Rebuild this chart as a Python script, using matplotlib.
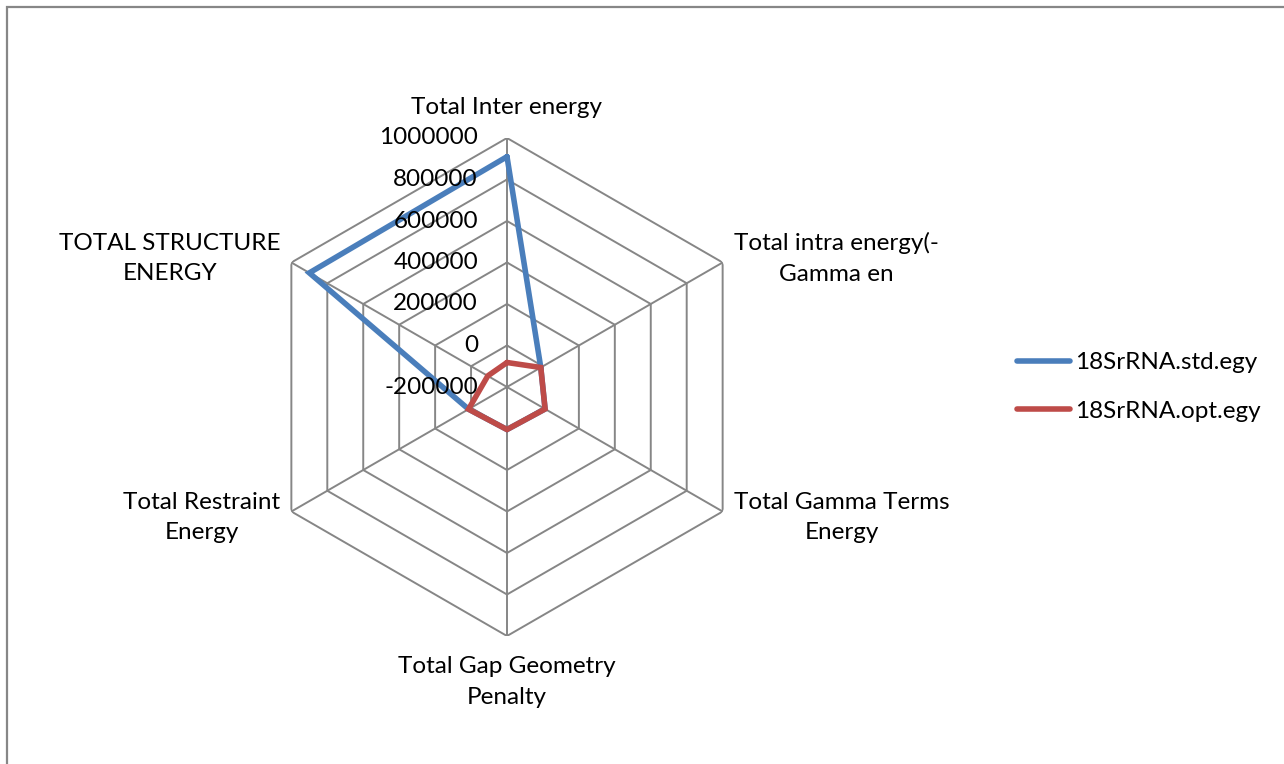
import numpy as np
import matplotlib.pyplot as plt
from matplotlib.patches import Rectangle

plt.rcParams['font.family'] = ['Lato', 'DejaVu Sans']

# Data
categories = ['Total Inter energy', 'Total intra energy(-\nGamma en',
              'Total Gamma Terms\nEnergy', 'Total Gap Geometry\nPenalty',
              'Total Restraint\nEnergy', 'TOTAL STRUCTURE\nENERGY']
std_egy = [910000, -12000, 12000, 5000, 14000, 900000]
opt_egy = [-82000, -12000, 12000, 5000, 14000, -93000]
ticks = [-200000, 0, 200000, 400000, 600000, 800000, 1000000]
series_names = ['18SrRNA.std.egy', '18SrRNA.opt.egy']
colors = ['#4A7EBB', '#BE4B48']

W, H = 1284, 764
fig = plt.figure(figsize=(W / 100, H / 100), dpi=100)
# outer chart border (right and bottom edges fall outside the picture)
fig.patches.append(Rectangle((7 / W, -10 / H), 1300 / W, (H + 3) / H, transform=fig.transFigure,
                             fill=False, edgecolor='#878787', linewidth=1.6))

cx, cy, R = 507, 387, 249
ax = fig.add_axes([(cx - R) / W, (H - cy - R) / H, 2 * R / W, 2 * R / H], projection='polar')
ax.set_theta_offset(np.pi / 2)
ax.set_theta_direction(-1)
ax.set_ylim(ticks[0], ticks[-1])
ax.grid(False)
ax.set_xticks([])
ax.set_yticks([])
ax.spines['polar'].set_visible(False)
ax.patch.set_visible(False)

n = len(categories)
theta = np.arange(n) * 2 * np.pi / n
theta_c = np.append(theta, theta[0])

grid_col = '#868686'
for t in ticks[1:]:
    ax.plot(theta_c, [t] * (n + 1), color=grid_col, lw=1.4, zorder=1)
for th in theta:
    ax.plot([th, th], [ticks[0], ticks[-1]], color=grid_col, lw=1.4, zorder=1)

for vals, col, name in zip([std_egy, opt_egy], colors, series_names):
    ax.plot(theta_c, vals + vals[:1], color=col, lw=4.0, label=name, zorder=3,
            solid_joinstyle='miter', solid_capstyle='round')

fs = 17.5
# tick labels along the top axis
for t in ticks:
    ax.annotate(f'{t}', xy=(0, t), xytext=(-29, 0), textcoords='offset pixels',
                ha='right', va='center', fontsize=fs, zorder=4)

# category labels
offsets = [(0, 31, 'center', 'center'), (11, 4, 'left', 'center'),
           (11, -6, 'left', 'center'), (0, -46, 'center', 'center'),
           (-11, -6, 'right', 'center'), (-11, 4, 'right', 'center')]
for th, lab, (dx, dy, ha, va) in zip(theta, categories, offsets):
    ax.annotate(lab, xy=(th, ticks[-1]), xytext=(dx, dy), textcoords='offset pixels',
                ha=ha, va=va, multialignment='center', fontsize=fs, linespacing=1.55)

fig.legend(loc='center left', bbox_to_anchor=(995 / W, 1 - 387 / H), frameon=False,
           fontsize=fs, handlelength=2.2, handletextpad=0.2, labelspacing=1.15)

fig.savefig('out.png', dpi=100)
